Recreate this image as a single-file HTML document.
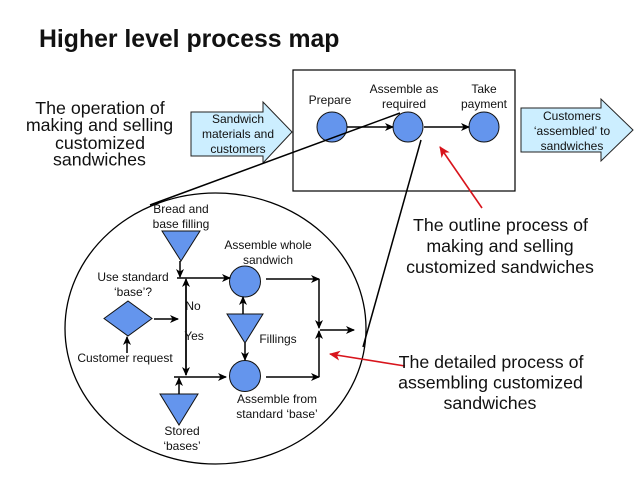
<!DOCTYPE html>
<html>
<head>
<meta charset="utf-8">
<style>
html,body{margin:0;padding:0;background:#fff;}
svg{display:block;}
text{font-family:"Liberation Sans",sans-serif;fill:#111;}
.s{font-size:12px;text-anchor:middle;}
.n{font-size:17.8px;text-anchor:middle;}
.l{fill:none;stroke:#000;stroke-width:1.5;}
.b{fill:#6495ed;stroke:#111;stroke-width:1;}
.a{fill:#cceeff;stroke:#222;stroke-width:1;}
</style>
</head>
<body>
<svg width="638" height="479" viewBox="0 0 638 479" xmlns="http://www.w3.org/2000/svg">
<defs>
<marker id="h" markerWidth="9" markerHeight="8" refX="8" refY="4" orient="auto" markerUnits="userSpaceOnUse"><path d="M0 0L9 4L0 8L2.5 4Z" fill="#000"/></marker>
<marker id="r" markerWidth="12" markerHeight="10" refX="10" refY="5" orient="auto" markerUnits="userSpaceOnUse"><path d="M0 0L11 5L0 10L3 5Z" fill="#d8141c"/></marker>
</defs>
<rect width="638" height="479" fill="#fff"/>
<text x="39" y="47" font-weight="bold" style="font-size:24.8px">Higher level process map</text>

<text class="n" x="100" y="114">The operation of</text>
<text class="n" x="99.5" y="131">making and selling</text>
<text class="n" x="100" y="149">customized</text>
<text class="n" x="99.5" y="165.5">sandwiches</text>

<rect x="293" y="70" width="222" height="121" fill="#fff" stroke="#000" stroke-width="1.2"/>
<path class="a" d="M191 112H263V102L292 132L263 163V156H191Z"/>
<path class="a" d="M521 108H601V99L633 130L601 161V152H521Z"/>
<text class="s" x="238" y="123">Sandwich</text>
<text class="s" x="238" y="138">materials and</text>
<text class="s" x="238" y="153">customers</text>
<text class="s" x="572" y="120">Customers</text>
<text class="s" x="572" y="135">‘assembled’ to</text>
<text class="s" x="572" y="150">sandwiches</text>

<circle class="b" cx="332" cy="127" r="15"/>
<circle class="b" cx="408" cy="127" r="15"/>
<circle class="b" cx="484" cy="127" r="15"/>
<text class="s" x="330" y="104">Prepare</text>
<text class="s" x="404" y="93">Assemble as</text>
<text class="s" x="404" y="108">required</text>
<text class="s" x="484" y="93">Take</text>
<text class="s" x="484" y="108">payment</text>
<line class="l" x1="347" y1="127" x2="393" y2="127" marker-end="url(#h)"/>
<line class="l" x1="424" y1="127" x2="469" y2="127" marker-end="url(#h)"/>

<ellipse cx="215.5" cy="328.5" rx="150.5" ry="135.5" fill="none" stroke="#000" stroke-width="1.3"/>
<line class="l" x1="150" y1="205" x2="400" y2="113"/>
<line class="l" x1="421" y1="140" x2="363" y2="347"/>

<path class="b" d="M162 231H200L181 261Z"/>
<path class="b" d="M160 394H198L179 425Z"/>
<path class="b" d="M227 314H263L245 343Z"/>
<path class="b" d="M104 318.5L128 301L152 318.5L128 336Z"/>
<circle class="b" cx="245" cy="281.5" r="15.5"/>
<circle class="b" cx="245" cy="376" r="15.5"/>

<line class="l" x1="180" y1="261" x2="180" y2="277" marker-end="url(#h)"/>
<line class="l" x1="177" y1="278" x2="230" y2="278" marker-end="url(#h)"/>
<line class="l" x1="186" y1="375" x2="186" y2="279" marker-end="url(#h)"/>
<line class="l" x1="186" y1="280" x2="186" y2="375" marker-end="url(#h)"/>
<line class="l" x1="174" y1="377" x2="226" y2="377" marker-end="url(#h)"/>
<line class="l" x1="179" y1="394" x2="179" y2="378" marker-end="url(#h)"/>
<line class="l" x1="154" y1="319" x2="178" y2="319" marker-end="url(#h)"/>
<line class="l" x1="127" y1="353" x2="127" y2="337" marker-end="url(#h)"/>
<line class="l" x1="243" y1="314" x2="243" y2="297" marker-end="url(#h)"/>
<line class="l" x1="245" y1="343" x2="245" y2="360" marker-end="url(#h)"/>
<line class="l" x1="266" y1="279" x2="319" y2="279" marker-end="url(#h)"/>
<line class="l" x1="319" y1="279" x2="319" y2="328" marker-end="url(#h)"/>
<line class="l" x1="266" y1="377" x2="319" y2="377" marker-end="url(#h)"/>
<line class="l" x1="319" y1="377" x2="319" y2="331" marker-end="url(#h)"/>
<line class="l" x1="320" y1="330" x2="354" y2="330" marker-end="url(#h)"/>

<line x1="482" y1="208" x2="440" y2="147" stroke="#d8141c" stroke-width="1.6" marker-end="url(#r)"/>
<line x1="405" y1="366" x2="330" y2="354" stroke="#d8141c" stroke-width="1.6" marker-end="url(#r)"/>

<text class="s" x="181" y="213">Bread and</text>
<text class="s" x="181" y="228">base filling</text>
<text class="s" x="268" y="249">Assemble whole</text>
<text class="s" x="268" y="264">sandwich</text>
<text class="s" x="133" y="281">Use standard</text>
<text class="s" x="133" y="296">‘base’?</text>
<text class="s" x="193" y="310">No</text>
<text class="s" x="194" y="340">Yes</text>
<text class="s" x="278" y="343">Fillings</text>
<text class="s" x="125" y="362">Customer request</text>
<text class="s" x="277" y="403">Assemble from</text>
<text class="s" x="277" y="418">standard ‘base’</text>
<text class="s" x="182" y="435">Stored</text>
<text class="s" x="182" y="450">‘bases’</text>

<text class="n" x="500.5" y="231">The outline process of</text>
<text class="n" x="500" y="252">making and selling</text>
<text class="n" x="500" y="273">customized sandwiches</text>
<text class="n" x="491" y="368">The detailed process of</text>
<text class="n" x="490.5" y="388.5">assembling customized</text>
<text class="n" x="490" y="409">sandwiches</text>
</svg>
</body>
</html>
